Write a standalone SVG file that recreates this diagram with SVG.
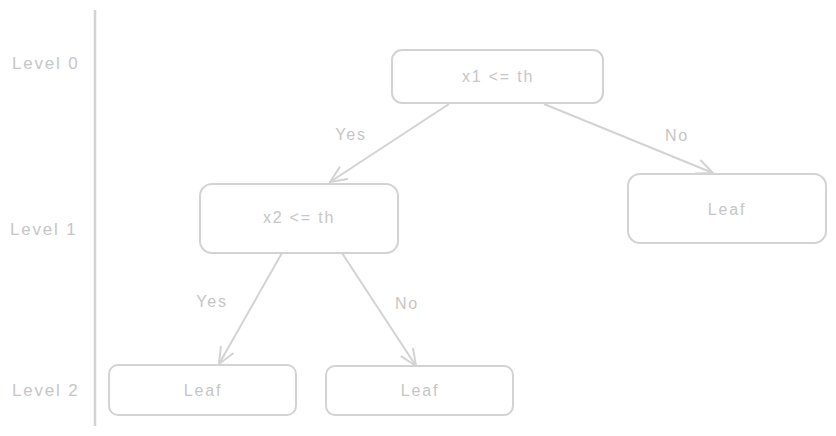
<svg xmlns="http://www.w3.org/2000/svg" width="836" height="436" viewBox="0 0 836 436">
<defs>
<style>
.box{fill:#ffffff;stroke:#d3d3d3;stroke-width:2}
.edge{fill:none;stroke:#d3d3d3;stroke-width:2}
.t{font-family:"Liberation Sans",Arial,sans-serif;font-size:16px;letter-spacing:1.8px;fill:#c6c6c6;text-anchor:middle;dominant-baseline:central}
.lvl{font-family:"Liberation Sans",Arial,sans-serif;font-size:17px;letter-spacing:1.8px;fill:#c6c6c6;dominant-baseline:central}
</style>
<marker id="arr" viewBox="0 0 20 20" refX="18" refY="10" markerWidth="20" markerHeight="20" markerUnits="userSpaceOnUse" orient="auto">
<path d="M2,3 L18,10 L2,17" fill="none" stroke="#d3d3d3" stroke-width="2" stroke-linecap="round" stroke-linejoin="round"/>
</marker>
</defs>
<rect width="836" height="436" fill="#ffffff"/>
<g id="axis">
<line x1="95" y1="10" x2="95" y2="426" stroke="#d3d3d3" stroke-width="2.5"/>
<text class="lvl" x="12" y="63">Level 0</text>
<text class="lvl" x="10" y="229">Level 1</text>
<text class="lvl" x="12" y="390">Level 2</text>
</g>
<g id="connectors">
<line class="edge" x1="449" y1="104" x2="330" y2="182" marker-end="url(#arr)"/>
<line class="edge" x1="544" y1="104" x2="713" y2="173" marker-end="url(#arr)"/>
<line class="edge" x1="282" y1="253" x2="219" y2="364" marker-end="url(#arr)"/>
<line class="edge" x1="342" y1="253" x2="416" y2="366" marker-end="url(#arr)"/>
<text class="t" x="351" y="134">Yes</text>
<text class="t" x="677" y="135">No</text>
<text class="t" x="212" y="301">Yes</text>
<text class="t" x="407" y="303">No</text>
</g>
<g id="n_x1">
<rect class="box" x="392" y="50" width="211" height="53" rx="10"/>
<text class="t" x="498" y="76">x1 &lt;= th</text>
</g>
<g id="n_x2">
<rect class="box" x="200" y="184" width="198" height="69" rx="12"/>
<text class="t" x="299" y="217">x2 &lt;= th</text>
</g>
<g id="n_leaf_r">
<rect class="box" x="628" y="174" width="198" height="69" rx="12"/>
<text class="t" x="727" y="209">Leaf</text>
</g>
<g id="n_leaf_a">
<rect class="box" x="109" y="365" width="187" height="50" rx="9"/>
<text class="t" x="203" y="390">Leaf</text>
</g>
<g id="n_leaf_b">
<rect class="box" x="326" y="366" width="187" height="49" rx="9"/>
<text class="t" x="420" y="390">Leaf</text>
</g>
</svg>
